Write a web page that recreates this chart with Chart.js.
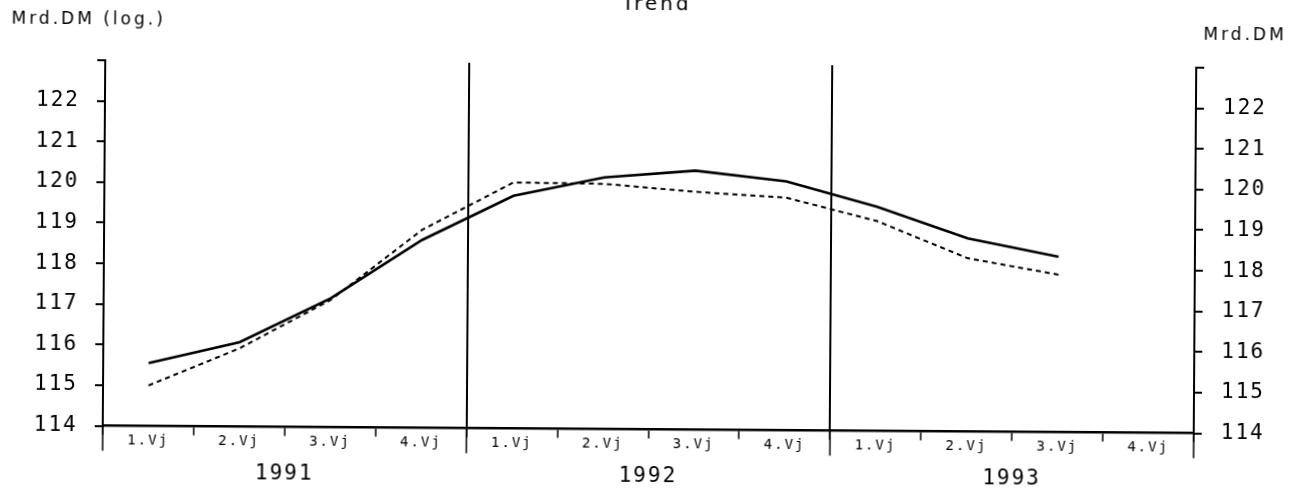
<!DOCTYPE html>
<html>
<head>
<meta charset="utf-8">
<script src="https://cdn.jsdelivr.net/npm/chart.js@4"></script>
<style>
  html, body { margin: 0; padding: 0; background: #fff; overflow: hidden; }
  #wrap { width: 1308px; height: 489px; transform: rotate(0.39deg); }
</style>
</head>
<body>
<div id="wrap"><canvas id="trendChart"></canvas></div>
<script>
// Quarters (Vierteljahre) and years
const quarters = ['1.Vj', '2.Vj', '3.Vj', '4.Vj', '1.Vj', '2.Vj', '3.Vj', '4.Vj', '1.Vj', '2.Vj', '3.Vj', '4.Vj'];
const years = ['1991', '1992', '1993'];

// Mrd.DM
const solidSeries = [115.55, 116.08, 117.18, 118.63, 119.73, 120.2, 120.38, 120.13, 119.52, 118.76, 118.32, null];
const dottedSeries = [115.0, 115.93, 117.14, 118.88, 120.06, 120.04, 119.86, 119.73, 119.17, 118.27, 117.88, null];

const yMin = 114;
const yMax = 123;

const monoFont = 'DejaVu Sans Mono';

// letter spacing for all canvas text (the original uses a wide plotter font)
const spacingPlugin = {
  id: 'spacing',
  beforeUpdate(chart) { chart.ctx.letterSpacing = '2px'; },
  beforeDraw(chart) { chart.ctx.letterSpacing = '2px'; }
};

// longer ticks below the axis at the year boundaries, plus header texts
const decoPlugin = {
  id: 'deco',
  afterDraw(chart) {
    const ctx = chart.ctx;
    const x = chart.scales.x;
    const area = chart.chartArea;
    const half = (x.getPixelForValue(1) - x.getPixelForValue(0)) / 2;
    ctx.save();
    ctx.strokeStyle = '#000';
    ctx.lineWidth = 1.5;
    for (let k = 0; k <= quarters.length; k += 4) {
      const px = x.getPixelForValue(0) - half + k * 2 * half;
      ctx.beginPath();
      ctx.moveTo(px, area.bottom);
      ctx.lineTo(px, area.bottom + 25);
      ctx.stroke();
    }
    ctx.fillStyle = '#000';
    ctx.letterSpacing = '3px';
    ctx.textBaseline = 'alphabetic';
    ctx.font = '17px "DejaVu Sans"';
    ctx.textAlign = 'left';
    ctx.fillText('Mrd.DM (log.)', 10, 28);
    ctx.fillText('Mrd.DM', 1202, 36);
    ctx.font = '20px "DejaVu Sans"';
    ctx.textAlign = 'center';
    ctx.fillText('Trend', 655, 10);
    ctx.restore();
  }
};

const yTicks = {
  stepSize: 1,
  color: '#000',
  font: { family: monoFont, size: 21 },
  callback: v => (v === yMax ? '' : v)
};

new Chart(document.getElementById('trendChart').getContext('2d'), {
  type: 'line',
  data: {
    labels: quarters,
    datasets: [
      {
        data: solidSeries,
        borderColor: '#000',
        borderWidth: 2.6,
        pointRadius: 0,
        tension: 0,
        fill: false
      },
      {
        data: dottedSeries,
        borderColor: '#000',
        borderWidth: 2,
        borderDash: [5, 4],
        pointRadius: 0,
        tension: 0,
        fill: false
      }
    ]
  },
  options: {
    responsive: true,
    maintainAspectRatio: false,
    animation: false,
    layout: { padding: { top: 64, left: 0, right: 0, bottom: 0 } },
    plugins: {
      legend: { display: false },
      title: { display: false },
      tooltip: { enabled: false }
    },
    scales: {
      x: {
        type: 'category',
        offset: true,
        position: 'bottom',
        border: { display: true, color: '#000', width: 2.5 },
        grid: {
          offset: true,
          drawOnChartArea: true,
          color: c => (c.index % 4 === 0 ? '#000' : 'rgba(0,0,0,0)'),
          lineWidth: 2,
          tickColor: '#000',
          tickLength: 9,
          tickWidth: 1.5
        },
        ticks: {
          color: '#000',
          font: { family: monoFont, size: 14 },
          padding: -3,
          maxRotation: 0,
          autoSkip: false
        },
        afterFit: s => { s.height = 30; }
      },
      x2: {
        type: 'category',
        labels: years,
        offset: true,
        position: 'bottom',
        border: { display: false },
        grid: { display: false },
        ticks: {
          color: '#000',
          font: { family: monoFont, size: 21 },
          padding: -4,
          maxRotation: 0
        },
        afterFit: s => { s.height = 29.5; }
      },
      y: {
        type: 'linear',
        position: 'left',
        min: yMin,
        max: yMax,
        border: { display: true, color: '#000', width: 2 },
        grid: { drawOnChartArea: false, color: '#000', tickLength: 8, lineWidth: 2 },
        ticks: Object.assign({ padding: 17 }, yTicks),
        afterFit: s => { s.width = 104; }
      },
      y2: {
        type: 'linear',
        position: 'right',
        min: yMin,
        max: yMax,
        border: { display: true, color: '#000', width: 2 },
        grid: { drawOnChartArea: false, color: '#000', tickLength: 8, lineWidth: 2 },
        ticks: Object.assign({ padding: 19 }, yTicks),
        afterFit: s => { s.width = 113; }
      }
    }
  },
  plugins: [spacingPlugin, decoPlugin]
});
</script>
</body>
</html>
